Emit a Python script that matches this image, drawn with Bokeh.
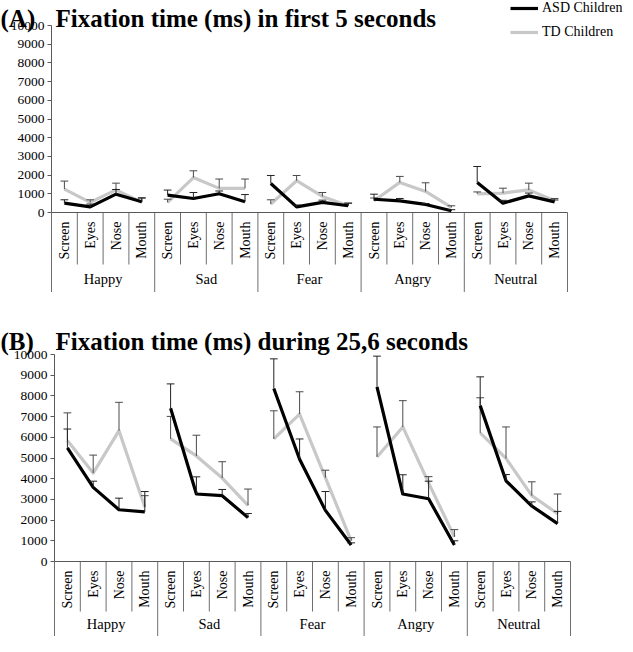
import math
from bokeh.plotting import figure
from bokeh.models import Range1d, FixedTicker, Label, Legend, LegendItem
from bokeh.layouts import column
from bokeh.embed import file_html
from bokeh.resources import INLINE
from bokeh.core.properties import value

# ---------------- data ----------------
emotions = ["Happy", "Sad", "Fear", "Angry", "Neutral"]
regions = ["Screen", "Eyes", "Nose", "Mouth"]
y_ticks = [0, 1000, 2000, 3000, 4000, 5000, 6000, 7000, 8000, 9000, 10000]
series_names = ["ASD Children", "TD Children"]

# Panel A: first 5 seconds (order: emotion x region)
asd_a = [500, 300, 980, 570, 930, 750, 1000, 570, 1550, 300, 540, 360,
         710, 625, 430, 90, 1600, 500, 890, 570]
asd_a_sd = [180, 150, 250, 200, 270, 320, 150, 390, 430, 100, 120, 140,
            270, 125, 50, 60, 860, 150, 150, 100]
td_a = [1250, 540, 1210, 540, 540, 1870, 1290, 1290, 450, 1700, 860, 360,
        625, 1610, 1125, 270, 1000, 1040, 1210, 625]
td_a_sd = [430, 140, 360, 250, 170, 360, 500, 500, 230, 280, 210, 140,
           150, 320, 465, 90, 100, 260, 360, 125]

# Panel B: during 25,6 seconds
asd_b = [5490, 3580, 2500, 2400, 7400, 3260, 3180, 2120, 8360, 4940, 2470, 800,
         8440, 3260, 3030, 800, 7530, 3900, 2680, 1830]
asd_b_sd = [910, 300, 560, 980, 1180, 830, 300, 200, 1430, 980, 910, 100,
            1480, 930, 850, 200, 1390, 300, 200, 590]
td_b = [5840, 4270, 6320, 2630, 5920, 5100, 4030, 2710, 5920, 7120, 4050, 1000,
        5050, 6500, 3800, 1190, 6210, 4980, 3180, 2310]
td_b_sd = [1340, 870, 1370, 550, 1090, 1000, 790, 790, 1360, 1080, 360, 150,
           1450, 1270, 300, 350, 1700, 1520, 670, 950]

SERIF = "Liberation Serif"
W = 625
ASD_COLOR = "black"
TD_COLOR = "#c8c8c8"
LINE_W = 3.2


def make_panel(letter, title, asd, asd_sd, td, td_sd, H, left_px, right_px,
               top_px, zero_px, cat_band, title_base, with_legend):
    n = len(emotions) * len(regions)
    sy = 10000.0 / (zero_px - top_px)          # data units per pixel (y)
    sx = n / float(right_px - left_px)          # data units per pixel (x)
    y0 = -(H - zero_px) * sy
    y1 = 10000 + top_px * sy
    xa = -left_px * sx
    xb = (W - left_px) * sx

    p = figure(width=W, height=H, output_backend="svg", toolbar_location=None,
               x_axis_location=None, title=None,
               x_range=Range1d(xa, xb), y_range=Range1d(y0, y1),
               min_border_left=0, min_border_right=0,
               min_border_top=0, min_border_bottom=0)
    p.outline_line_color = None
    p.xgrid.visible = False
    p.ygrid.visible = False

    ax = p.yaxis[0]
    ax.fixed_location = 0
    ax.bounds = (0, 10000)
    ax.ticker = FixedTicker(ticks=y_ticks)
    ax.axis_line_color = "#595959"
    ax.major_tick_line_color = "#595959"
    ax.major_tick_out = 4
    ax.major_tick_in = 0
    ax.minor_tick_out = 0
    ax.minor_tick_in = 0
    ax.major_label_standoff = 3
    ax.major_label_text_font = SERIF
    ax.major_label_text_font_size = "13.5px"
    ax.major_label_text_color = "black"

    # category table under the plot
    cat_len = cat_band * sy
    xs_sep = list(range(n + 1))
    ends = [y0 if i % len(regions) == 0 else -cat_len for i in xs_sep]
    p.segment(x0=xs_sep, y0=[0] * len(xs_sep), x1=xs_sep, y1=ends,
              line_color="#6e6e6e", line_width=1)
    p.segment(x0=[0], y0=[0], x1=[n], y1=[0], line_color="#595959", line_width=1)

    centers = [i + 0.5 for i in range(n)]
    cat_labels = regions * len(emotions)
    p.text(x=centers, y=[-9 * sy] * n, text=cat_labels, angle=math.pi / 2,
           text_align="right", text_baseline="middle",
           text_font=value(SERIF), text_font_size="14px", text_color="black")
    gx = [len(regions) * g + len(regions) / 2 for g in range(len(emotions))]
    gy = -(cat_band + (H - zero_px - cat_band) / 2.0) * sy
    p.text(x=gx, y=[gy] * len(emotions), text=emotions,
           text_align="center", text_baseline="middle",
           text_font=value(SERIF), text_font_size="14.5px", text_color="black")

    # series lines (one piece per emotion group)
    k = len(regions)
    xs_groups = [centers[g * k:(g + 1) * k] for g in range(len(emotions))]
    td_groups = [td[g * k:(g + 1) * k] for g in range(len(emotions))]
    asd_groups = [asd[g * k:(g + 1) * k] for g in range(len(emotions))]

    cap = 0.15
    td_top = [m + s for m, s in zip(td, td_sd)]
    asd_top = [m + s for m, s in zip(asd, asd_sd)]

    r_td = p.multi_line(xs=xs_groups, ys=td_groups, line_color=TD_COLOR,
                        line_width=LINE_W, line_join="round")
    p.segment(x0=centers, y0=td, x1=centers, y1=td_top, line_color="#4a4a4a", line_width=1)
    p.segment(x0=[c - cap for c in centers], y0=td_top, x1=[c + cap for c in centers],
              y1=td_top, line_color="#4a4a4a", line_width=1)
    r_asd = p.multi_line(xs=xs_groups, ys=asd_groups, line_color=ASD_COLOR,
                         line_width=LINE_W, line_join="round")
    p.segment(x0=centers, y0=asd, x1=centers, y1=asd_top, line_color="#222222", line_width=1)
    p.segment(x0=[c - cap for c in centers], y0=asd_top, x1=[c + cap for c in centers],
              y1=asd_top, line_color="#222222", line_width=1)

    # titles
    p.add_layout(Label(x=0, y=H - title_base, x_units="screen", y_units="screen",
                       text=letter, text_font=SERIF, text_font_size="25px",
                       text_font_style="bold", text_color="black",
                       text_baseline="alphabetic"))
    p.add_layout(Label(x=55, y=H - title_base, x_units="screen", y_units="screen",
                       text=title, text_font=SERIF, text_font_size="25px",
                       text_font_style="bold", text_color="black",
                       text_baseline="alphabetic"))

    if with_legend:
        lg = Legend(items=[LegendItem(label=series_names[0], renderers=[r_asd]),
                           LegendItem(label=series_names[1], renderers=[r_td])],
                    location=(510, H - 40),
                    padding=0, margin=0, spacing=8,
                    glyph_width=28, glyph_height=16, label_height=16,
                    label_standoff=4,
                    label_text_font=SERIF, label_text_font_size="14px",
                    label_text_color="black",
                    background_fill_alpha=0, border_line_color=None)
        p.add_layout(lg)
    return p


pA = make_panel("(A)", "Fixation time (ms) in first 5 seconds",
                asd_a, asd_a_sd, td_a, td_a_sd,
                H=292, left_px=51, right_px=567, top_px=25, zero_px=212,
                cat_band=52, title_base=18, with_legend=True)
pB = make_panel("(B)", "Fixation time (ms) during 25,6 seconds",
                asd_b, asd_b_sd, td_b, td_b_sd,
                H=344, left_px=54, right_px=570, top_px=62, zero_px=269,
                cat_band=50, title_base=49, with_legend=False)

layout = column(pA, pB, spacing=0)
open("out.html", "w").write(file_html(layout, INLINE))
